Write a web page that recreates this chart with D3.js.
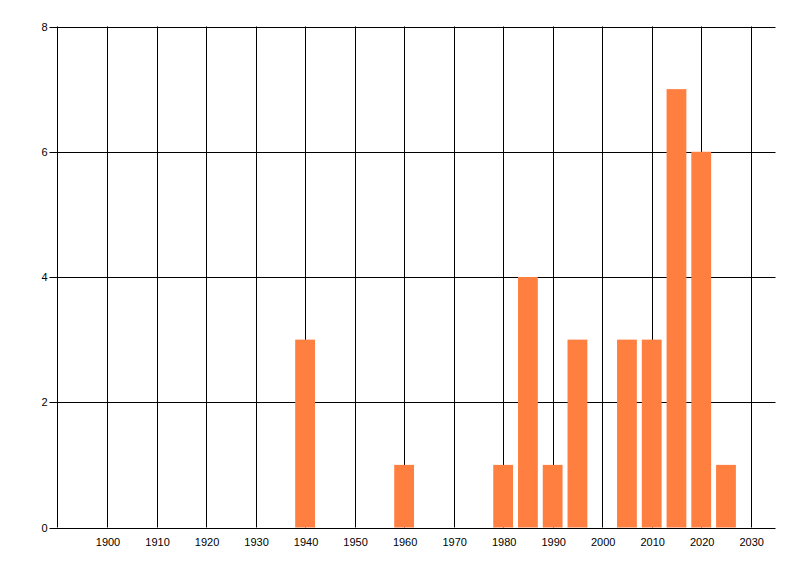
<!DOCTYPE html>
<html>
<head>
<meta charset="utf-8">
<script src="https://cdn.jsdelivr.net/npm/d3@7"></script>
<style>
    body { margin: 0; background: #fff; }
    text { font-family: "Liberation Sans", "DejaVu Sans", sans-serif; font-size: 11px; fill: #000; }
</style>
</head>
<body>
<svg id="chart" width="800" height="576"></svg>
<script>
// bar data, one bar per 5-year bucket
const years = [1940, 1960, 1980, 1985, 1990, 1995, 2005, 2010, 2015, 2020, 2025];
const counts = [3, 1, 1, 4, 1, 3, 3, 3, 7, 6, 1];
const xTicks = [1900, 1910, 1920, 1930, 1940, 1950, 1960, 1970, 1980, 1990, 2000, 2010, 2020, 2030];
const yTicks = [0, 2, 4, 6, 8];

const svg = d3.select("#chart");
const plotLeft = 57.5, plotRight = 775.5, plotTop = 26.5, plotBottom = 527.5;

let x = d3.scaleLinear().domain([1890, 2035]).range([plotLeft, plotRight]);
let y = d3.scaleLinear().domain([0, 8]).range([plotBottom, plotTop]);

// vertical grid lines
svg.selectAll(".vgrid")
    .data(xTicks)
    .enter()
    .append("line")
    .attr("class", "vgrid")
    .attr("x1", d => Math.round(x(d)) + 0.5)
    .attr("x2", d => Math.round(x(d)) + 0.5)
    .attr("y1", plotTop)
    .attr("y2", plotBottom)
    .style("stroke", "#000")
    .style("stroke-width", 1);

// horizontal grid lines, with the small tick on the left
svg.selectAll(".hgrid")
    .data(yTicks)
    .enter()
    .append("line")
    .attr("class", "hgrid")
    .attr("x1", plotLeft - 8)
    .attr("x2", plotRight)
    .attr("y1", d => Math.round(y(d)) + 0.5)
    .attr("y2", d => Math.round(y(d)) + 0.5)
    .style("stroke", "#000")
    .style("stroke-width", 1);

// left axis line
svg.append("line")
    .attr("x1", plotLeft).attr("x2", plotLeft)
    .attr("y1", plotTop).attr("y2", plotBottom)
    .style("stroke", "#000");

const barWidth = x(1894) - x(1890);
svg.selectAll(".bar")
    .data(years.map((yr, i) => ({ year: yr, count: counts[i] })))
    .enter()
    .append("rect")
    .attr("class", "bar")
    .attr("x", d => x(d.year) - barWidth / 2)
    .attr("y", d => y(d.count))
    .attr("width", barWidth)
    .attr("height", d => y(0) - y(d.count))
    .style("fill", "#ff7f41");

svg.selectAll(".xlabel")
    .data(xTicks)
    .enter()
    .append("text")
    .attr("class", "xlabel")
    .attr("x", d => x(d) + 1)
    .attr("y", plotBottom + 18)
    .attr("text-anchor", "middle")
    .text(d => d);

svg.selectAll(".ylabel")
    .data(yTicks)
    .enter()
    .append("text")
    .attr("class", "ylabel")
    .attr("x", plotLeft - 10)
    .attr("y", d => y(d) + 4)
    .attr("text-anchor", "end")
    .text(d => d);
</script>
</body>
</html>
